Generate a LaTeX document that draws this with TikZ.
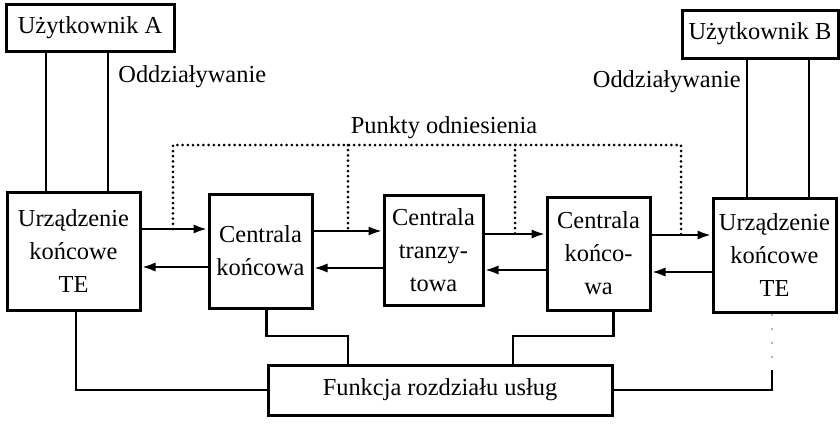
\documentclass[tikz,border=0pt]{standalone}
\usepackage{fontspec}
\setmainfont{Liberation Serif}
\usetikzlibrary{arrows.meta}
\begin{document}
\begin{tikzpicture}[x=0.5pt,y=-0.5pt,
  box/.style={draw,line width=1.5pt,inner sep=0pt,align=center,
    font=\fontsize{12.2}{16.5}\selectfont},
  link/.style={line width=1.35pt},
  faint/.style={line width=0.6pt,gray!60,dash pattern=on 1pt off 6pt},
  arr/.style={line width=1.35pt,-{Latex[length=7pt,width=4.6pt]}},
  refline/.style={line width=1.5pt,line cap=round,dash pattern=on 0pt off 2.6pt},
  lbl/.style={font=\fontsize{12.2}{14}\selectfont,inner sep=0pt}]
\useasboundingbox (0,0) rectangle (840,424);

% users
\node[box,minimum width=84pt,minimum height=23.5pt] (ua) at (90,27.5) {Użytkownik A};
\node[box,minimum width=78pt,minimum height=24pt] (ub) at (760,34) {Użytkownik B};

% terminal equipment and exchanges
\node[box,minimum width=66.5pt,minimum height=59pt] (tea) at (73.5,251) {Urządzenie\\końcowe\\TE};
\node[box,minimum width=51.5pt,minimum height=57pt] (ck) at (260.5,251) {Centrala\\końcowa};
\node[box,minimum width=49.5pt,minimum height=55pt] (ct) at (433.5,250) {Centrala\\tranzy-\\towa};
\node[box,minimum width=51.5pt,minimum height=56.5pt] (ck2) at (598.5,253.5) {Centrala\\końco-\\wa};
\node[box,minimum width=61.5pt,minimum height=57pt] (teb) at (774.5,255) {Urządzenie\\końcowe\\TE};

% service distribution function
\node[box,minimum width=172pt,minimum height=25pt] (fun) at (440,390) {Funkcja rozdziału usług};

% labels
\node[lbl,anchor=west] (oa) at (118,77) {Oddziaływanie};
\node[lbl,anchor=east] (ob) at (741,82) {Oddziaływanie};
\node[lbl] (pkt) at (444,128) {Punkty odniesienia};

% user interaction lines
\draw[link] (ua.south -| 46,0) -- (tea.north -| 46,0);
\draw[link] (ua.south -| 108,0) -- (tea.north -| 108,0);
\draw[link] (ub.south -| 747,0) -- (teb.north -| 747,0);
\draw[link] (ub.south -| 809,0) -- (teb.north -| 809,0);

% forward signal path
\draw[arr] (tea.east |- 0,229) -- (ck.west |- 0,229);
\draw[arr] (ck.east |- 0,231) -- (ct.west |- 0,231);
\draw[arr] (ct.east |- 0,234) -- (ck2.west |- 0,234);
\draw[arr] (ck2.east |- 0,235) -- (teb.west |- 0,235);

% return signal path
\draw[arr] (ck.west |- 0,267) -- (tea.east |- 0,267);
\draw[arr] (ct.west |- 0,268) -- (ck.east |- 0,268);
\draw[arr] (ck2.west |- 0,270) -- (ct.east |- 0,270);
\draw[arr] (teb.west |- 0,272) -- (ck2.east |- 0,272);

% reference points
\coordinate (r1) at (173,145);
\coordinate (r2) at (348,145);
\coordinate (r3) at (515,145);
\coordinate (r4) at (681,145);
\draw[refline] (r1 |- 0,229) -- (r1) -- (r4) -- (r4 |- 0,235);
\draw[refline] (r2) -- (r2 |- 0,231);
\draw[refline] (r3) -- (r3 |- 0,234);

% connections to the service distribution function
\coordinate (jl) at (348,336);
\coordinate (jr) at (513,336);
\coordinate (tk) at (772,370);
\draw[link] ([xshift=1.25pt]tea.south) |- (fun.west);
\draw[link] (ck.south -| fun.west) |- (jl) -- (jl |- fun.north);
\draw[link] (ck2.south -| fun.east) |- (jr) -- (jr |- fun.north);
\draw[faint] (teb.south -| tk) -- (tk);
\draw[link] (tk) |- (fun.east);
\end{tikzpicture}
\end{document}
